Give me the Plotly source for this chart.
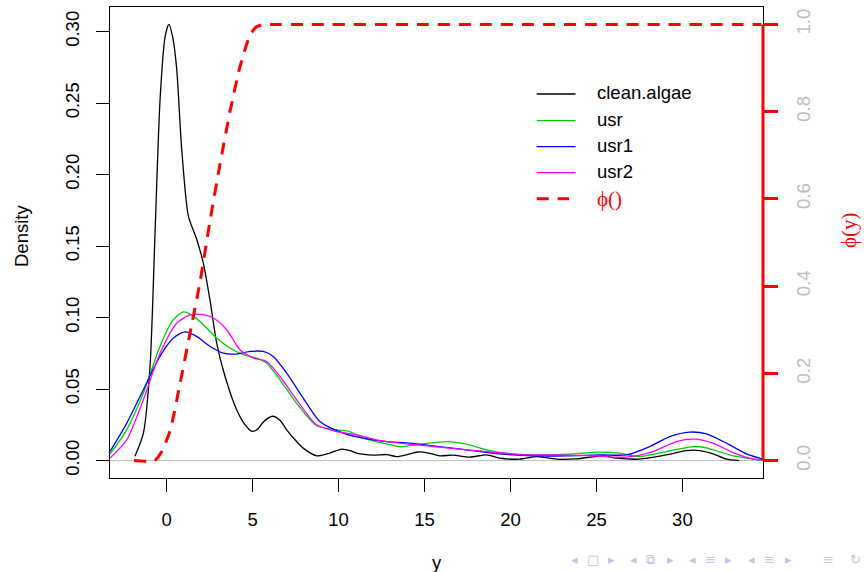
import plotly.graph_objects as go

# ---------------- data ----------------
algae_x = [-1.85, -1.36, -0.97, -0.68, -0.39, -0.1, 0.12, 0.35, 0.58, 0.87, 1.26, 1.74, 2.13,
           2.52, 2.91, 3.39, 4.07, 4.5, 4.94, 5.3, 5.62, 6.16, 6.6, 6.98, 7.5, 7.94, 8.72, 9.49,
           10.17, 10.7, 11.05, 12.0, 12.8, 13.37, 14.15, 14.63, 15.3, 15.89, 16.66, 17.63, 18.6,
           19.38, 20.54, 21.51, 22.67, 23.84, 25.38, 26.16, 27.5, 29.07, 30.23, 31.0, 31.78,
           32.56, 33.3]
algae_y = [0.003, 0.019, 0.066, 0.159, 0.252, 0.296, 0.305, 0.296, 0.274, 0.218, 0.171, 0.155,
           0.138, 0.112, 0.082, 0.059, 0.0355, 0.026, 0.0205, 0.022, 0.027, 0.031, 0.028, 0.0215,
           0.014, 0.0087, 0.0033, 0.0052, 0.008, 0.0068, 0.0052, 0.0038, 0.0042, 0.0028, 0.0047,
           0.006, 0.005, 0.0033, 0.0038, 0.0024, 0.004, 0.0017, 0.001, 0.0028, 0.001, 0.0012,
           0.0033, 0.0017, 0.001, 0.004, 0.007, 0.007, 0.0047, 0.001, 0.0]

usr_x = [-3.3, -2.33, -1.36, -0.39, 0.39, 0.97, 1.55, 2.13, 2.91, 3.68, 4.45, 5.23, 5.81, 6.59,
         7.56, 8.72, 9.88, 10.66, 11.43, 12.59, 13.56, 14.92, 16.28, 17.44, 18.6, 19.96, 21.7,
         23.64, 25.19, 26.35, 27.5, 29.07, 30.62, 31.4, 32.74, 34.1, 34.7]
usr_y = [0.0045, 0.0215, 0.047, 0.080, 0.0985, 0.104, 0.101, 0.095, 0.0857, 0.0787, 0.074,
         0.0717, 0.0682, 0.0565, 0.040, 0.0243, 0.0215, 0.0203, 0.0157, 0.0122, 0.0098, 0.0117,
         0.0133, 0.0115, 0.0075, 0.0047, 0.004, 0.0047, 0.0059, 0.0052, 0.0028, 0.0063, 0.0098,
         0.0089, 0.004, 0.001, 0.0003]

usr1_x = [-3.3, -2.33, -1.36, -0.39, 0.39, 1.06, 1.74, 2.52, 3.29, 4.07, 4.84, 5.62, 6.2, 6.98,
          7.94, 8.91, 10.27, 11.43, 12.79, 14.15, 15.5, 17.44, 19.38, 21.31, 23.26, 25.19, 26.74,
          28.1, 29.26, 30.42, 31.4, 32.56, 33.72, 34.7]
usr1_y = [0.0063, 0.026, 0.0495, 0.073, 0.0857, 0.090, 0.0868, 0.0798, 0.0752, 0.0745, 0.0763,
          0.0763, 0.0728, 0.0612, 0.0437, 0.0273, 0.0192, 0.0157, 0.0133, 0.0122, 0.0103, 0.0075,
          0.0047, 0.0033, 0.0033, 0.004, 0.004, 0.0098, 0.0168, 0.0199, 0.0187, 0.0122, 0.0047,
          0.001]

usr2_x = [-3.3, -2.33, -1.36, -0.39, 0.58, 1.35, 2.13, 2.71, 3.49, 4.26, 5.04, 5.81, 6.59, 7.56,
          8.72, 9.88, 11.05, 12.2, 13.56, 15.5, 17.44, 19.19, 20.93, 22.87, 24.8, 26.74, 28.29,
          29.65, 30.71, 31.78, 32.94, 34.1, 34.7]
usr2_y = [0.0017, 0.0145, 0.0425, 0.075, 0.096, 0.1018, 0.102, 0.0997, 0.0915, 0.0775, 0.0717,
          0.0693, 0.0588, 0.0425, 0.025, 0.0203, 0.018, 0.0145, 0.0122, 0.0098, 0.0075, 0.0056,
          0.004, 0.004, 0.0033, 0.0024, 0.0063, 0.0133, 0.015, 0.0122, 0.0056, 0.0012, 0.0003]

phi_x = [-1.9, -0.7, -0.3, 0.2, 0.77, 1.35, 1.94, 2.52, 3.1, 3.68, 4.26, 4.84, 5.2, 5.62, 6.2,
         8.0, 15.0, 25.0, 34.6]
phi_y = [0.0, 0.0, 0.02, 0.069, 0.176, 0.291, 0.41, 0.55, 0.68, 0.80, 0.903, 0.975, 0.994, 1.0,
         1.0, 1.0, 1.0, 1.0, 1.0]

x_ticks = [0, 5, 10, 15, 20, 25, 30]
y_ticks = [0.00, 0.05, 0.10, 0.15, 0.20, 0.25, 0.30]
y_tick_text = ["0.00", "0.05", "0.10", "0.15", "0.20", "0.25", "0.30"]
y2_ticks = [0.0, 0.2, 0.4, 0.6, 0.8, 1.0]
y2_tick_text = ["0.0", "0.2", "0.4", "0.6", "0.8", "1.0"]

series_names = ["clean.algae", "usr", "usr1", "usr2"]
series_colors = ["#000000", "#00CD00", "#0000FF", "#FF00FF"]

# ---------------- layout geometry ----------------
W, H = 864, 572
L, R, T, B = 110, 101, 7, 94
PW, PH = W - L - R, H - T - B


def px(xp):
    return (xp - L) / PW


def py(yp):
    return (H - B - yp) / PH


FONT = "Liberation Sans, Arial, Helvetica, sans-serif"
SERIF = "Liberation Serif, Times New Roman, serif"

fig = go.Figure()

for xs, ys, nm, col in zip([algae_x, usr_x, usr1_x, usr2_x],
                           [algae_y, usr_y, usr1_y, usr2_y],
                           series_names, series_colors):
    fig.add_trace(go.Scatter(x=xs, y=ys, mode="lines", name=nm, showlegend=False,
                             line=dict(color=col, width=1.3, shape="spline", smoothing=0.7)))

fig.add_trace(go.Scatter(x=phi_x, y=phi_y, yaxis="y2", mode="lines", name="ϕ()",
                         showlegend=False,
                         line=dict(color="#FF0000", width=3, dash="12px,9px",
                                   shape="spline", smoothing=0.6)))

shapes = [
    # gray baseline at density 0
    dict(type="line", xref="paper", yref="y", x0=0, x1=1, y0=0, y1=0,
         line=dict(color="#BEBEBE", width=1), layer="below"),
    # red right axis line (spans 0..1)
    dict(type="line", xref="paper", yref="y2", x0=1, x1=1, y0=0, y1=1,
         line=dict(color="#FF0000", width=3), layer="above"),
]

annotations = []

# manual legend
leg_rows = [94, 120.7, 146.7, 172.7, 198.7]
leg_names = series_names + ["ϕ()"]
leg_colors = series_colors + ["#FF0000"]
for i, (nm, col, yrow) in enumerate(zip(leg_names, leg_colors, leg_rows)):
    if i < 4:
        shapes.append(dict(type="line", xref="paper", yref="paper",
                           x0=px(536.7), x1=px(575.5), y0=py(yrow), y1=py(yrow),
                           line=dict(color=col, width=1.3)))
        annotations.append(dict(text=nm, xref="paper", yref="paper", x=px(595), y=py(yrow - 1),
                                xanchor="left", yanchor="middle", showarrow=False,
                                font=dict(family=FONT, size=18.5, color="black")))
    else:
        shapes.append(dict(type="line", xref="paper", yref="paper",
                           x0=px(536.7), x1=px(569), y0=py(yrow), y1=py(yrow),
                           line=dict(color=col, width=3, dash="12px,9px")))
        annotations.append(dict(text=nm, xref="paper", yref="paper", x=px(595), y=py(yrow),
                                xanchor="left", yanchor="middle", showarrow=False,
                                font=dict(family=SERIF, size=21, color="#FF0000")))

# axis titles
annotations.append(dict(text="Density", xref="paper", yref="paper", x=px(21), y=py(236),
                        textangle=-90, showarrow=False, xanchor="center", yanchor="middle",
                        font=dict(family=FONT, size=18.5, color="black")))
annotations.append(dict(text="y", xref="paper", yref="paper", x=px(437), y=py(562),
                        showarrow=False, xanchor="center", yanchor="middle",
                        font=dict(family=FONT, size=18.5, color="black")))
annotations.append(dict(text="ϕ(y)", xref="paper", yref="paper", x=px(849), y=py(230),
                        textangle=-90, showarrow=False, xanchor="center", yanchor="middle",
                        font=dict(family=SERIF, size=21, color="#FF0000")))

# beamer navigation symbols (decoration)
nav_syms = ["◂", "□", "▸", "◂", "⧉", "▸", "◂", "≡", "▸", "◂", "≡", "▸", "≡", "↻"]
nav_pos = [574, 593, 611, 633, 650, 670, 692, 710, 728, 751, 769, 788, 828, 855]
for s, xp in zip(nav_syms, nav_pos):
    annotations.append(dict(text=s, xref="paper", yref="paper", x=px(xp), y=py(559),
                            showarrow=False, xanchor="center", yanchor="middle",
                            font=dict(family="DejaVu Sans", size=13, color="#C4C4E4")))

fig.update_layout(
    width=W, height=H,
    margin=dict(l=L, r=R, t=T, b=B, pad=0),
    paper_bgcolor="white", plot_bgcolor="white",
    showlegend=False,
    xaxis=dict(range=[-3.30, 34.69], tickvals=x_ticks, ticks="outside", ticklen=13,
               tickwidth=1, tickcolor="black", showline=True, linecolor="black", linewidth=1,
               mirror=True, showgrid=False, zeroline=False, ticklabelstandoff=12,
               tickfont=dict(family=FONT, size=18.5, color="black")),
    yaxis=dict(range=[-0.0122, 0.3172], tickvals=y_ticks, ticktext=y_tick_text, ticks="outside",
               ticklen=13, tickwidth=1, tickcolor="black", showline=True, linecolor="black",
               linewidth=1, mirror=True, showgrid=False, zeroline=False, tickangle=-90,
               ticklabelstandoff=10,
               tickfont=dict(family=FONT, size=18.5, color="black")),
    yaxis2=dict(range=[-0.04, 1.04], overlaying="y", side="right", tickvals=y2_ticks,
                ticktext=y2_tick_text, ticks="outside", ticklen=14, tickwidth=3,
                tickcolor="#FF0000", showline=False, showgrid=False, zeroline=False,
                tickangle=-90, ticklabelstandoff=10,
                tickfont=dict(family=FONT, size=18.5, color="#BEBEBE")),
    shapes=shapes,
    annotations=annotations,
)

fig.write_html("out.html", config={"displayModeBar": False})

# remove the browser's default page margin so the figure fills the window exactly
with open("out.html", "r", encoding="utf-8") as f:
    html = f.read()
html = html.replace("<head>", "<head><style>html,body{margin:0;padding:0;overflow:hidden;}</style>", 1)
with open("out.html", "w", encoding="utf-8") as f:
    f.write(html)
